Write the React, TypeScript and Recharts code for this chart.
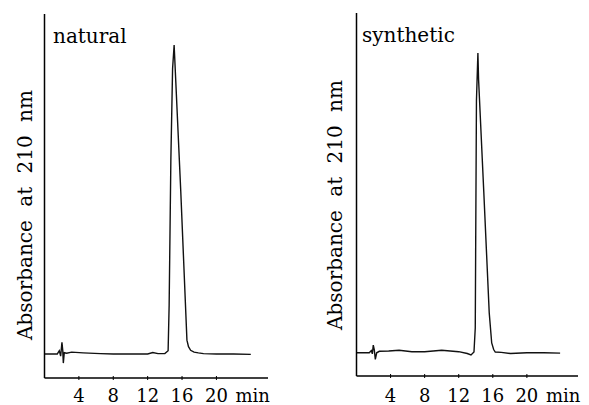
import React from "react";
import { LineChart, Line, XAxis, YAxis } from "recharts";

// HPLC traces (time in min, absorbance in arbitrary units)
const naturalTime = [0, 1.0, 1.49, 1.72, 1.88, 2.03, 2.12, 2.19, 2.3, 2.58, 3.16, 4.5, 6.5, 8, 10, 12, 12.6, 13.2, 14.0, 14.38, 14.5, 14.7, 14.9, 15.08, 15.85, 16.57, 16.75, 17.0, 17.4, 17.9, 18.5, 20, 22, 24];
const naturalAbs = [6.6, 6.6, 6.6, 7.5, 6.0, 9.8, 7.7, 4.1, 6.95, 6.8, 7.1, 6.9, 6.7, 6.6, 6.6, 6.6, 7.0, 6.7, 6.7, 7.5, 20, 60, 85, 91.5, 51.4, 10.4, 8.6, 7.6, 7.1, 6.9, 6.7, 6.6, 6.6, 6.5];

const syntheticTime = [0, 1.0, 1.5, 1.74, 1.86, 1.97, 2.09, 2.21, 2.37, 2.68, 3.78, 5, 6.5, 8, 10, 12, 13.0, 13.44, 13.79, 13.94, 14.08, 14.25, 14.33, 14.94, 15.58, 15.87, 16.1, 16.29, 17, 18.08, 20, 22, 23.9];
const syntheticAbs = [6.4, 6.4, 6.4, 7.0, 6.1, 8.5, 7.2, 4.6, 6.4, 6.8, 6.9, 7.1, 6.7, 6.7, 7.1, 6.7, 6.2, 5.8, 6.6, 13.2, 75.9, 89.0, 81.7, 50.8, 17.4, 9.1, 7.3, 6.6, 6.5, 6.2, 6.4, 6.4, 6.3];

const xTicks = [4, 8, 12, 16, 20];
const xUnit = "min";
const yTitle = "Absorbance at 210 nm";
const panelLabels = ["natural", "synthetic"];

const FONT = "'DejaVu Serif', 'Liberation Serif', serif";

const toRows = (t: number[], a: number[]) => t.map((time, i) => ({ time, abs: a[i] }));

function XTick(props: any) {
  const { x, y, payload, labelOffset } = props;
  const last = payload.value === xTicks[xTicks.length - 1];
  return (
    <g>
      <line x1={x} x2={x} y1={y - 4} y2={y} stroke="#000" strokeWidth={1} />
      <text x={x} y={y + labelOffset} textAnchor="middle" fontFamily={FONT} fontSize={18} fill="#000">
        {payload.value}
      </text>
      {last && (
        <text x={x + 19} y={y + labelOffset} textAnchor="start" fontFamily={FONT} fontSize={18} fill="#000">
          {xUnit}
        </text>
      )}
    </g>
  );
}

interface PanelProps {
  rows: { time: number; abs: number }[];
  label: string;
  width: number;
  axisX: number; // y-axis position inside the panel
  right: number;
  top: number;
  bottom: number;
  labelX: number;
  labelY: number;
  yTitleX: number;
  yTitleY: number;
  tickOffset: number;
}

function Panel(p: PanelProps) {
  return (
    <LineChart
      width={p.width}
      height={405}
      data={p.rows}
      margin={{ top: p.top, right: p.right, left: 0, bottom: 0 }}
    >
      <XAxis
        dataKey="time"
        type="number"
        domain={[0, 26]}
        ticks={xTicks}
        interval={0}
        height={p.bottom}
        tickSize={0}
        tickLine={false}
        axisLine={{ stroke: "#000", strokeWidth: 1.5 }}
        tick={(props: any) => <XTick {...props} labelOffset={p.tickOffset} />}
        allowDataOverflow
      />
      <YAxis
        type="number"
        domain={[0, 100]}
        width={p.axisX}
        tick={false}
        tickLine={false}
        axisLine={{ stroke: "#000", strokeWidth: 1.5 }}
      />
      <Line
        dataKey="abs"
        type="linear"
        stroke="#111"
        strokeWidth={1.4}
        dot={false}
        isAnimationActive={false}
      />
      <text x={p.labelX} y={p.labelY} fontFamily={FONT} fontSize={20} fill="#000">
        {p.label}
      </text>
      <text
        x={p.yTitleX}
        y={p.yTitleY}
        transform={`rotate(-90 ${p.yTitleX} ${p.yTitleY})`}
        textAnchor="middle"
        fontFamily={FONT}
        fontSize={20}
        style={{ wordSpacing: 7 }}
        fill="#000"
      >
        {yTitle}
      </text>
    </LineChart>
  );
}

export default function App() {
  return (
    <div style={{ position: "absolute", left: 0, top: 0, width: 589, height: 405, background: "#fff", display: "flex" }}>
      <Panel
        rows={toRows(naturalTime, naturalAbs)}
        label={panelLabels[0]}
        width={295}
        axisX={44.5}
        right={27}
        top={14}
        bottom={27}
        labelX={53}
        labelY={43}
        yTitleX={32}
        yTitleY={215}
        tickOffset={21.5}
      />
      <Panel
        rows={toRows(syntheticTime, syntheticAbs)}
        label={panelLabels[1]}
        width={294}
        axisX={61.5}
        right={11}
        top={13}
        bottom={29}
        labelX={67}
        labelY={42}
        yTitleX={46.7}
        yTitleY={205}
        tickOffset={23.5}
      />
    </div>
  );
}
